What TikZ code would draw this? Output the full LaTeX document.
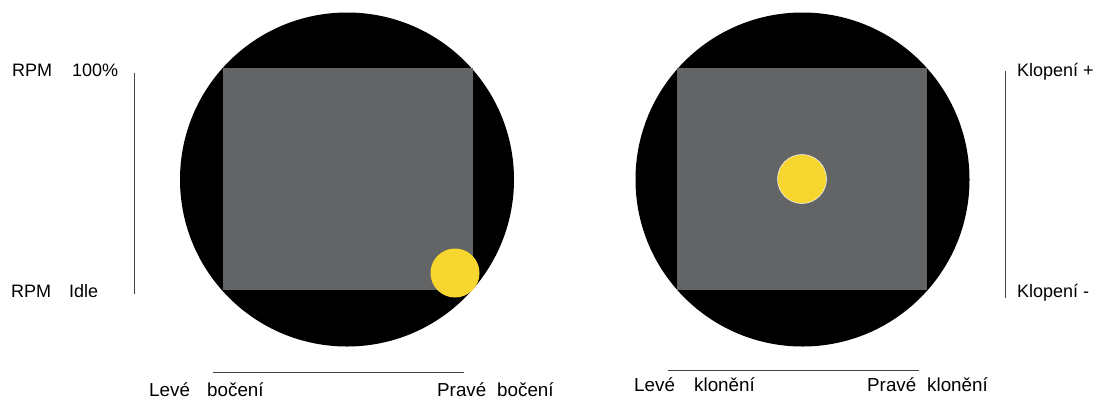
\documentclass[tikz,border=0pt]{standalone}
\usepackage{fontspec}
\setmainfont{Liberation Sans}
\definecolor{padgray}{HTML}{636466}
\definecolor{stickyellow}{HTML}{F7D630}
\definecolor{axisgray}{HTML}{444444}
\begin{document}
\begin{tikzpicture}[x=1bp,y=-1bp,
  lbl/.style={anchor=base west,inner sep=0pt,font=\fontsize{18bp}{20bp}\selectfont},
  blbl/.style={lbl,font=\fontsize{18.8bp}{21bp}\selectfont},
  disc/.style={circle,fill=black,minimum size=334bp,inner sep=0pt},
  pad/.style={fill=padgray,inner sep=0pt,minimum width=250bp,minimum height=222bp},
  knob/.style={circle,fill=stickyellow,minimum size=49bp,inner sep=0pt},
  axis/.style={draw=axisgray,line width=0.9bp}]
\useasboundingbox (0,0) rectangle (1100,399);
% left stick
\node[disc] (dl) at (347,179.5) {};
\node[pad] (pl) at (347.5,179) {};
\node[knob] (kl) at (455,273) {};
% right stick
\node[disc] (dr) at (802.5,179.5) {};
\node[pad] (pr) at (802,179) {};
\node[knob,draw=white!85!gray,line width=0.6bp] (kr) at (802,179) {};
% axes
\coordinate (lvt) at (134,73);
\coordinate (lvb) at (134,294);
\draw[axis] (lvt) -- (lvb);
\coordinate (lhl) at (213,372);
\coordinate (lhr) at (464,372);
\draw[axis] (lhl) -- (lhr);
\coordinate (rvt) at (1005,71);
\coordinate (rvb) at (1005,298);
\draw[axis] (rvt) -- (rvb);
\coordinate (rhl) at (668,370);
\coordinate (rhr) at (919,370);
\draw[axis] (rhl) -- (rhr);
% labels
\node[lbl] (t1) at (12,76) {RPM};
\node[lbl] (t2) at (72,76) {100\%};
\node[lbl] (t3) at (11,297) {RPM};
\node[lbl] (t4) at (69,297) {Idle};
\node[blbl] (t5) at (149,396) {Levé};
\node[blbl] (t6) at (207,396) {bočení};
\node[blbl] (t7) at (437,396) {Pravé};
\node[blbl] (t8) at (497,396) {bočení};
\node[blbl] (t9) at (634,391) {Levé};
\node[blbl] (t10) at (694,391) {klonění};
\node[blbl] (t11) at (867,391) {Pravé};
\node[blbl] (t12) at (927,391) {klonění};
\node[lbl] (t13) at (1017,76) {Klopení +};
\node[lbl] (t14) at (1017,297) {Klopení -};
\end{tikzpicture}
\end{document}
